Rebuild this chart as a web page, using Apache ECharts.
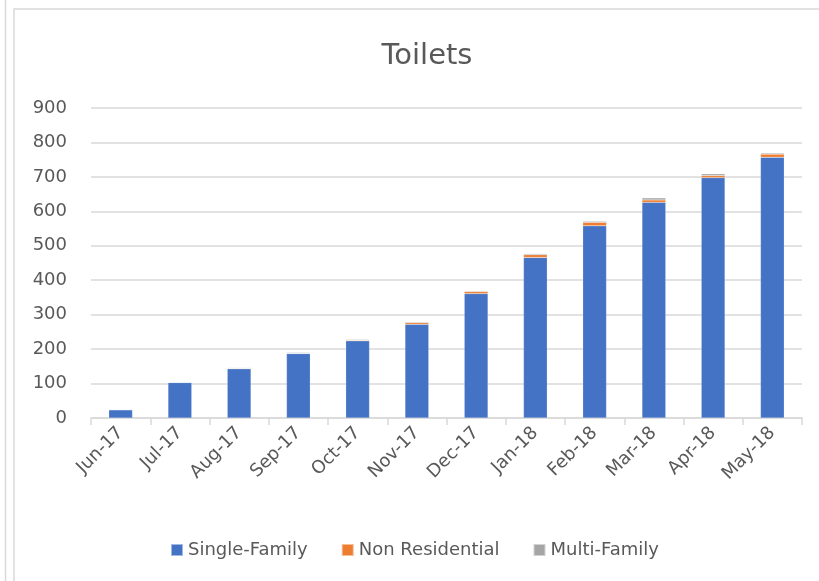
<!DOCTYPE html>
<html><head><meta charset="utf-8">
<script src="https://cdn.jsdelivr.net/npm/echarts@6/dist/echarts.min.js"></script>
<style>html,body{margin:0;padding:0;background:#fff}#c{width:819px;height:581px}</style>
</head><body><div id="c"></div>
<script>
const categories = ['Jun-17','Jul-17','Aug-17','Sep-17','Oct-17','Nov-17','Dec-17','Jan-18','Feb-18','Mar-18','Apr-18','May-18'];
const singleFamily = [24, 103, 143, 187, 224, 272, 361, 466, 558, 626, 698, 757];
const nonResidential = [0, 0, 1, 1, 2, 5, 6, 8, 10, 7, 6, 9];
const multiFamily = [0, 0, 2, 2, 2, 2, 2, 3, 3, 6, 5, 3];
const yTicks = [0, 100, 200, 300, 400, 500, 600, 700, 800, 900];

const chart = echarts.init(document.getElementById('c'), null, {renderer:'canvas'});
const font = '"DejaVu Sans", "Open Sans", sans-serif';
const mk = (name, data, color) => ({
  name, type:'bar', stack:'t', data, barWidth:'40%',
  itemStyle:{color, borderColor:'rgba(255,255,255,0.5)', borderWidth:0.4},
  emphasis:{disabled:true}
});
chart.setOption({
  animation:false,
  graphic:[
    {type:'line', shape:{x1:5.5,y1:0,x2:5.5,y2:581}, style:{stroke:'#d9d9d9', lineWidth:1.5}},
    {type:'rect', shape:{x:14,y:9,width:820,height:600}, style:{fill:'none', stroke:'#d9d9d9', lineWidth:1.5}}
  ],
  title:{text:'Toilets', left:422, textAlign:'center', top:37, textStyle:{fontFamily:font, fontWeight:'normal', fontSize:29, color:'#595959'}},
  legend:{top:536, left:165, itemWidth:12, itemHeight:12, itemGap:33, icon:'rect',
    textStyle:{fontFamily:font, fontSize:18, color:'#595959'},
    data:['Single-Family','Non Residential','Multi-Family']},
  grid:{left:91, right:17, top:108, bottom:163, containLabel:false},
  xAxis:{type:'category', data:categories,
    axisLine:{lineStyle:{color:'#d9d9d9', width:1.5}},
    axisTick:{show:true, length:7, lineStyle:{color:'#d9d9d9', width:1.5}, alignWithLabel:false},
    axisLabel:{rotate:45, margin:12, fontFamily:font, fontSize:18, color:'#595959', interval:0}},
  yAxis:{type:'value', min:yTicks[0], max:yTicks[yTicks.length-1], interval:100,
    axisLine:{show:false}, axisTick:{show:false},
    splitLine:{lineStyle:{color:'#d9d9d9', width:1.5}},
    axisLabel:{margin:24, fontFamily:font, fontSize:18, color:'#595959'}},
  series:[
    mk('Single-Family', singleFamily, '#4472c4'),
    mk('Non Residential', nonResidential, '#ed7d31'),
    mk('Multi-Family', multiFamily, '#a5a5a5')
  ]
});
</script></body></html>
